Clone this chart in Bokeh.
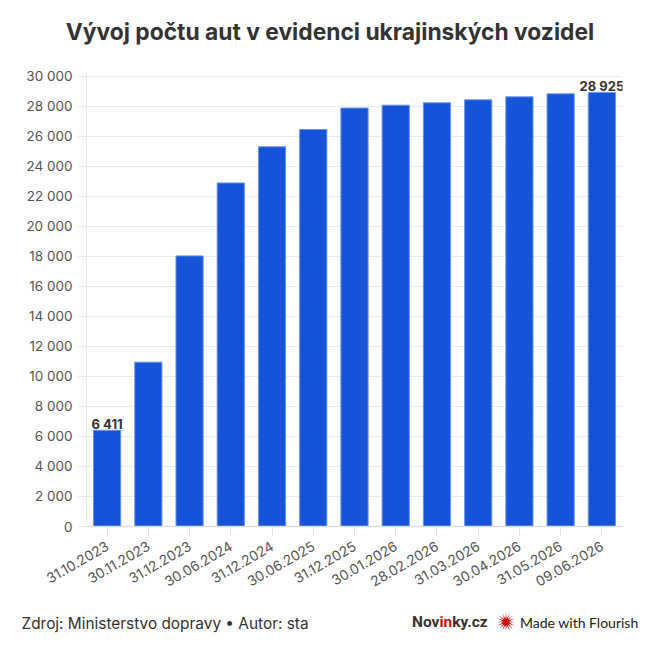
import math
from bokeh.plotting import figure
from bokeh.models import (Range1d, FactorRange, CustomJSTickFormatter, FixedTicker,
                          ColumnDataSource, Div)
from bokeh.layouts import column
from bokeh.embed import file_html
from bokeh.resources import INLINE
from bokeh.core.properties import value

# ---------------- data ----------------
dates = ["31.10.2023", "30.11.2023", "31.12.2023", "30.06.2024", "31.12.2024",
         "30.06.2025", "31.12.2025", "30.01.2026", "28.02.2026", "31.03.2026",
         "30.04.2026", "31.05.2026", "09.06.2026"]
counts = [6411, 10950, 18030, 22890, 25300, 26450, 27880, 28070, 28230, 28430,
          28630, 28830, 28925]
y_ticks = list(range(0, 30001, 2000))
title_text = "Vývoj počtu aut v evidenci ukrajinských vozidel"
source_text = "Zdroj: Ministerstvo dopravy • Autor: sta"

FONT = "Inter"

def fmt(v):
    return f"{v:,}".replace(",", " ")

# ---------------- header ----------------
header = Div(width=651, height=60, margin=0, text=(
    '<div style="position:relative;width:651px;height:60px;">'
    '<div style="position:absolute;left:9px;top:19.5px;width:642px;text-align:center;'
    'font-family:Inter;font-weight:700;font-size:22.8px;line-height:23px;color:#333333;'
    'white-space:nowrap;">' + title_text + '</div></div>'))

# ---------------- main chart ----------------
p = figure(width=643, height=538, x_range=FactorRange(*dates, range_padding=0),
           y_range=Range1d(0, 30250), output_backend="svg", toolbar_location=None,
           min_border_top=12, min_border_bottom=72, min_border_left=86,
           min_border_right=21, outline_line_color=None, margin=0)

src = ColumnDataSource(dict(date=dates, count=counts))
p.vbar(x="date", top="count", width=0.66, source=src, fill_color="#1554D6",
       line_color="#6A94EA", line_width=1)

lab = ColumnDataSource(dict(date=[dates[0], dates[-1]], count=[counts[0], counts[-1]],
                            txt=[fmt(counts[0]), fmt(counts[-1])]))
p.text(x="date", y="count", text="txt", source=lab, text_align="center",
       text_baseline="alphabetic", y_offset=-6, text_font=value(FONT),
       text_font_size="13px", text_font_style="bold", text_color="#333333")

p.xgrid.visible = False
p.ygrid.ticker = FixedTicker(ticks=y_ticks)
p.ygrid.grid_line_color = "#ebebeb"
p.ygrid.grid_line_width = 1

p.yaxis.ticker = FixedTicker(ticks=y_ticks)
p.yaxis.formatter = CustomJSTickFormatter(
    code="return tick.toFixed(0).replace(/\\B(?=(\\d{3})+(?!\\d))/g, ' ');")
p.yaxis.axis_line_color = "#ebebeb"
p.yaxis.major_tick_out = 9
p.yaxis.major_tick_in = 0
p.yaxis.major_tick_line_color = "#ebebeb"
p.yaxis.minor_tick_line_color = None
p.yaxis.major_label_standoff = 5
p.yaxis.major_label_text_font = FONT
p.yaxis.major_label_text_font_size = "13.5px"
p.yaxis.major_label_text_color = "#555555"

p.xaxis.axis_line_color = "#dddddd"
p.xaxis.axis_line_width = 1.5
p.xaxis.major_tick_out = 9
p.xaxis.major_tick_in = 0
p.xaxis.major_tick_line_color = "#e3e3e3"
p.xaxis.major_label_orientation = math.pi / 6
p.xaxis.major_label_standoff = 9
p.xaxis.major_label_text_font = FONT
p.xaxis.major_label_text_font_size = "13.8px"
p.xaxis.major_label_text_color = "#555555"

# ---------------- footer ----------------
cx, cy = 9, 9
pts = []
for k in range(32):
    r = 9 if k % 2 == 0 else 3.2
    a = math.pi * k / 16
    pts.append(f"{cx + r * math.cos(a):.2f},{cy + r * math.sin(a):.2f}")
star_svg = ('<svg width="18" height="18" viewBox="0 0 18 18">'
            '<polygon points="' + " ".join(pts) + '" fill="#cc1111"/></svg>')

footer = Div(width=651, height=50, margin=0, text=(
    '<div style="position:relative;width:651px;height:50px;">'
    '<div style="position:absolute;left:21.5px;top:17.5px;font-family:Inter;'
    'font-size:15.4px;line-height:15px;color:#333333;white-space:nowrap;">'
    + source_text + '</div>'
    '<div style="position:absolute;left:412px;top:17px;font-family:Roboto;'
    'font-weight:700;font-size:15.5px;line-height:15px;color:#333333;'
    'white-space:nowrap;">Nov<span style="color:#cc1111;">in</span>ky.cz</div>'
    '<div style="position:absolute;left:497px;top:14.5px;width:18px;height:18px;">'
    + star_svg + '</div>'
    '<div style="position:absolute;left:520px;top:17px;font-family:Lato;'
    'font-size:14px;line-height:15px;color:#222222;white-space:nowrap;">'
    'Made with Flourish</div>'
    '</div>'))

layout = column(header, p, footer, spacing=0)
open("out.html", "w").write(file_html(layout, INLINE))
